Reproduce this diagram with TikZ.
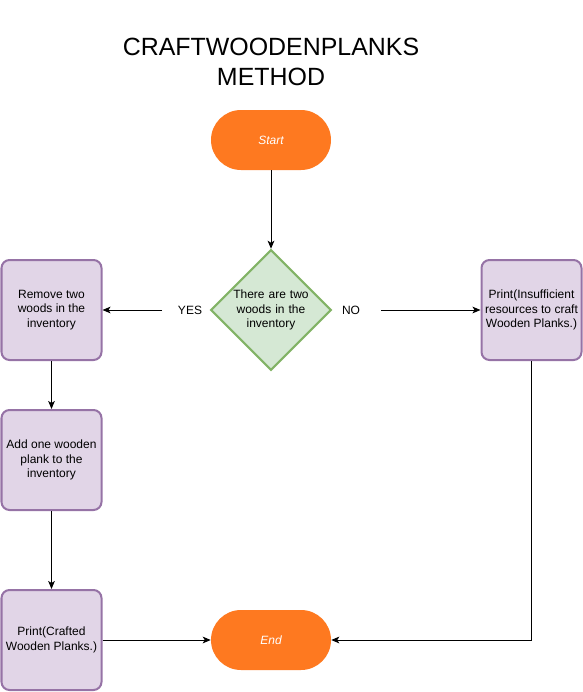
\documentclass[tikz,border=0pt]{standalone}
\usepackage{fontspec}
\setmainfont{Liberation Sans}
\usetikzlibrary{shapes.geometric,arrows.meta}
\definecolor{orangefill}{RGB}{254,121,32}
\definecolor{greenfill}{RGB}{213,232,212}
\definecolor{greenline}{RGB}{130,179,102}
\definecolor{purplefill}{RGB}{225,213,231}
\definecolor{purpleline}{RGB}{150,115,166}
\begin{document}
\begin{tikzpicture}[x=0.75pt,y=-0.75pt,
  every node/.style={font=\fontsize{9pt}{11pt}\selectfont, align=center},
  terminal/.style={draw=none, fill=orangefill, rounded corners=22.5pt, minimum width=90pt, minimum height=45pt, text=white, font=\fontsize{9pt}{11pt}\selectfont\itshape},
  decision/.style={diamond, draw=greenline, fill=greenfill, line width=1.5pt, minimum width=90pt, minimum height=90pt, inner sep=0pt, text width=60pt},
  process/.style={draw=purpleline, fill=purplefill, line width=1.5pt, rounded corners=6pt, minimum width=75pt, minimum height=75pt, inner sep=0pt},
  label/.style={font=\fontsize{9pt}{11pt}\selectfont},
  conn/.style={line width=0.75pt, -{Stealth[length=6pt,width=5pt,inset=1.5pt]}}]
\useasboundingbox (0,0) rectangle (582,692);
\node[font=\fontsize{18.7pt}{22pt}\selectfont] (title) at (271,62) {CRAFTWOODENPLANKS\\METHOD};
\node[terminal] (start) at (271,140) {Start};
\node[decision] (dec) at (271,310) {There are two\\woods in the\\inventory};
\node[process] (remove) at (51.5,310) {Remove two\\woods in the\\inventory};
\node[process] (add) at (51.5,460) {Add one wooden\\plank to the\\inventory};
\node[process] (printok) at (51.5,640) {Print(Crafted\\Wooden Planks.)};
\node[process] (printno) at (531.5,310) {Print(Insufficient\\resources to craft\\Wooden Planks.)};
\node[terminal] (end) at (271,640) {End};
\node[label] (yes) at (190,310) {YES};
\node[label] (no) at (351,310) {NO};
\coordinate (yesfrom) at (162,310);
\coordinate (nofrom) at (381,310);
\draw[conn] (start) -- (dec);
\draw[conn] (yesfrom) -- (remove);
\draw[conn] (nofrom) -- (printno);
\draw[conn] (remove) -- (add);
\draw[conn] (add) -- (printok);
\draw[conn] (printok) -- (end);
\draw[conn] (printno.south) |- (end.east);
\end{tikzpicture}
\end{document}
